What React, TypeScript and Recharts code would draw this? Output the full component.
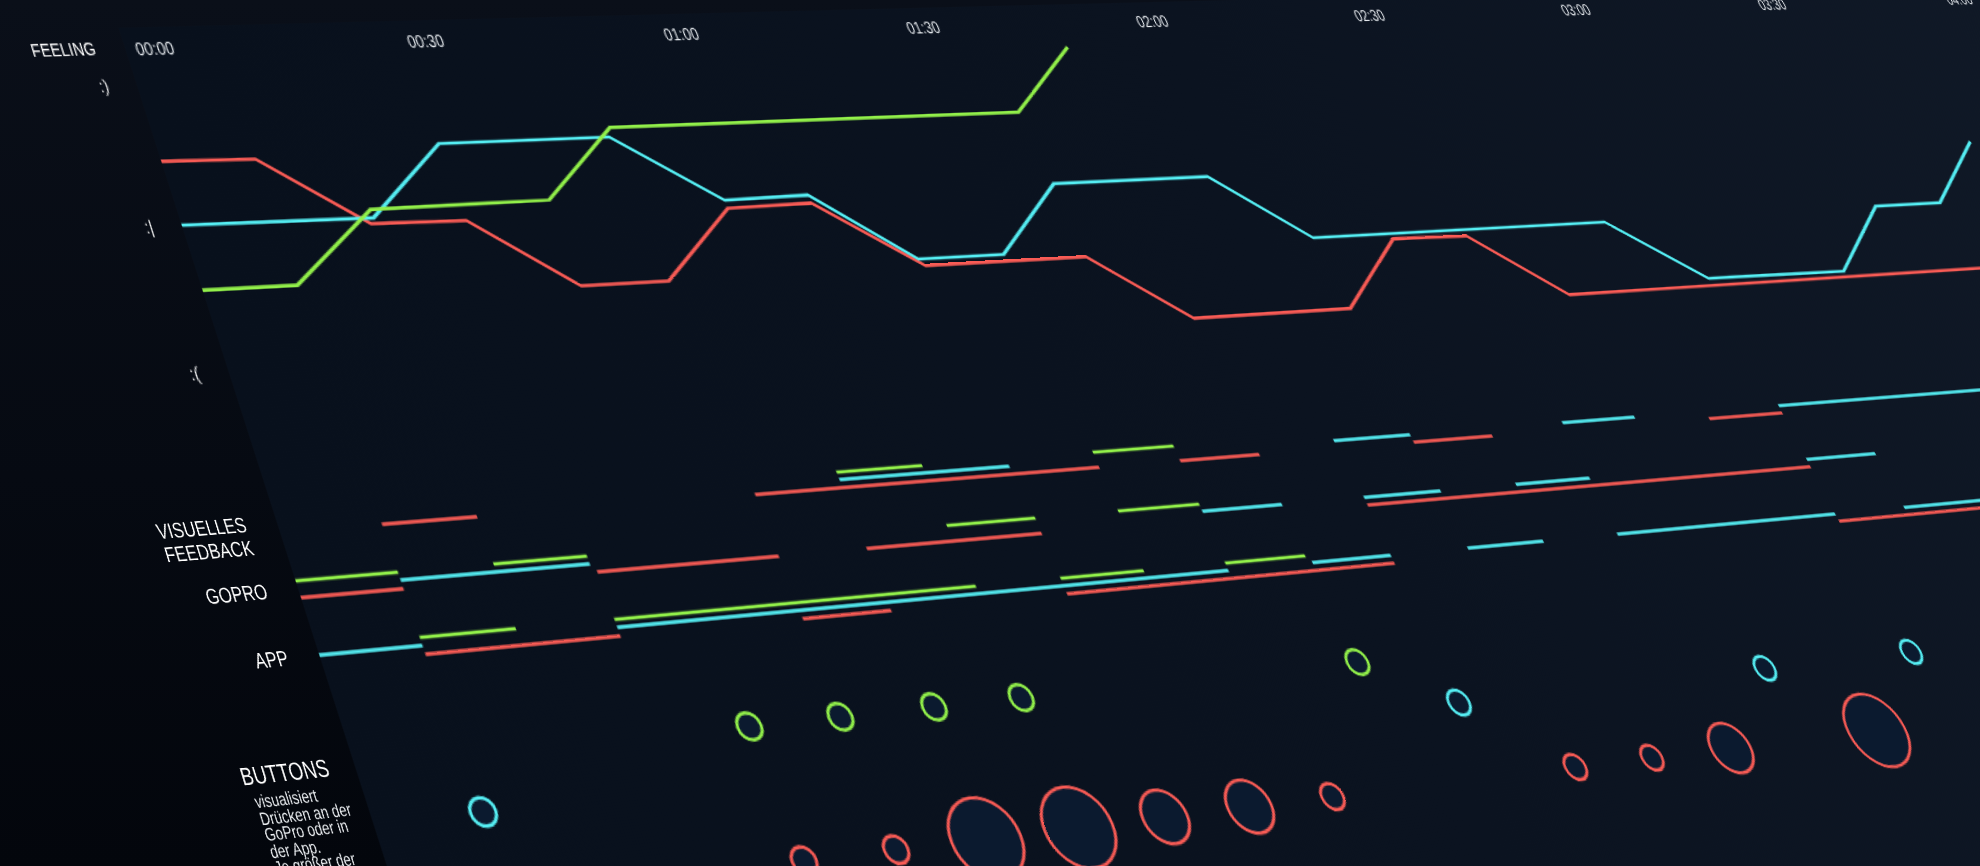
import React from 'react';
import {
  ComposedChart,
  LineChart,
  ScatterChart,
  Line,
  Scatter,
  XAxis,
  YAxis,
  ReferenceLine,
  ReferenceArea,
} from 'recharts';

const RED = '#f85b55';
const CYAN = '#55eef3';
const GREEN = '#92f04a';
const FONT = "'Liberation Sans', Arial, sans-serif";
const NARROW = 0.82; // the labels use a narrow grotesque

// ---- data: minutes since start of the session ----
const timeTicks = [0, 30, 60, 90, 120, 150, 180, 210, 240];
const feelingTicks = [0, 1, 2];
const feelingLabels = [':(', ':|', ':)'];

// feeling: 0 = :(  1 = :|  2 = :)
const redFeeling = [
  { t: 0, v: 1.5 }, { t: 10, v: 1.49 }, { t: 20, v: 1.0 }, { t: 30.5, v: 0.99 },
  { t: 40.5, v: 0.49 }, { t: 50.5, v: 0.49 }, { t: 60.5, v: 0.99 }, { t: 70.5, v: 1.0 },
  { t: 81, v: 0.5 }, { t: 101, v: 0.5 }, { t: 111, v: 0 }, { t: 131.5, v: 0 },
  { t: 141.5, v: 0.51 }, { t: 151.5, v: 0.5 }, { t: 161.5, v: 0 }, { t: 260, v: 0.01 },
];
const cyanFeeling = [
  { t: 0, v: 1.05 }, { t: 20.5, v: 1.04 }, { t: 30.5, v: 1.55 }, { t: 50, v: 1.55 },
  { t: 60.5, v: 1.05 }, { t: 70.5, v: 1.06 }, { t: 80.5, v: 0.55 }, { t: 91, v: 0.55 },
  { t: 101, v: 1.06 }, { t: 121, v: 1.06 }, { t: 131, v: 0.55 }, { t: 171.5, v: 0.55 },
  { t: 182, v: 0.06 }, { t: 202, v: 0.05 }, { t: 212, v: 0.56 }, { t: 222, v: 0.56 },
  { t: 232, v: 1.06 },
];
const greenFeeling = [
  { t: 0, v: 0.6 }, { t: 10, v: 0.6 }, { t: 20.5, v: 1.1 }, { t: 40.5, v: 1.11 },
  { t: 50.5, v: 1.62 }, { t: 100.5, v: 1.62 }, { t: 110.5, v: 2.12 },
];

const rowLabels = [['VISUELLES', 'FEEDBACK'], ['GOPRO'], ['APP']];

const redSegments = [
  { row: 0, from: 10.5, to: 20.5 }, { row: 0, from: 51, to: 91.5 }, { row: 0, from: 101.5, to: 111.5 },
  { row: 0, from: 131.5, to: 142 }, { row: 0, from: 172, to: 182.5 },
  { row: 1, from: 0, to: 10.5 }, { row: 1, from: 31, to: 51 }, { row: 1, from: 61, to: 81.5 },
  { row: 1, from: 122, to: 182.5 },
  { row: 2, from: 10.5, to: 31 }, { row: 2, from: 51, to: 61 }, { row: 2, from: 81.5, to: 122 },
  { row: 2, from: 182.5, to: 270 },
];
const greenSegments = [
  { row: 0, from: 61, to: 71 }, { row: 0, from: 91.5, to: 101.5 },
  { row: 1, from: 0, to: 10.5 }, { row: 1, from: 20.5, to: 30.5 }, { row: 1, from: 71, to: 81.5 },
  { row: 1, from: 91.5, to: 101.5 },
  { row: 2, from: 10.5, to: 20.5 }, { row: 2, from: 31, to: 71.5 }, { row: 2, from: 81.5, to: 91.5 },
  { row: 2, from: 101.5, to: 111.5 },
];
const cyanSegments = [
  { row: 0, from: 61, to: 81 }, { row: 0, from: 121.5, to: 131.5 }, { row: 0, from: 152, to: 162 },
  { row: 0, from: 182.5, to: 270 },
  { row: 1, from: 10.5, to: 30.5 }, { row: 1, from: 101.5, to: 111.5 }, { row: 1, from: 122, to: 132 },
  { row: 1, from: 142, to: 152 }, { row: 1, from: 182.5, to: 192.5 },
  { row: 2, from: 0, to: 10.5 }, { row: 2, from: 31, to: 101.5 }, { row: 2, from: 112, to: 122 },
  { row: 2, from: 132, to: 142 }, { row: 2, from: 152, to: 182.5 }, { row: 2, from: 192.5, to: 270 },
];

// button presses: size = how many presses
const greenPresses = [
  { t: 41, size: 1 }, { t: 51, size: 1 }, { t: 61.5, size: 1 }, { t: 71.5, size: 1 }, { t: 112, size: 1 },
];
const cyanPresses = [
  { t: 11, size: 1 }, { t: 122, size: 1 }, { t: 162.5, size: 1 }, { t: 183, size: 1 },
];
const redPresses = [
  { t: 41.5, size: 1 }, { t: 51.5, size: 1 }, { t: 61.5, size: 3 }, { t: 72, size: 3 },
  { t: 82, size: 2 }, { t: 92, size: 2 }, { t: 102, size: 1 }, { t: 132.5, size: 1 },
  { t: 142.5, size: 1 }, { t: 153, size: 2 }, { t: 173, size: 3 },
];

// ---- flat layout (before the perspective tilt) ----
const T_MAX = 270;
const PX_PER_30 = 218;
const X0 = 140;
const Y0 = 60;
const FLAT_W = X0 + (T_MAX / 30) * PX_PER_30;
const FLAT_H = 800;
const PANEL_TOP = 44;

// perspective of the photographed screen (fitted on a 1568 wide copy)
const K = 1980 / 1568;
const P = { x0: 99, y0: 38, a: 225.1, b: 0.3028, d: -4.89, e: 0.9933, g: 0.02966, h: -0.000175 };
const m11 = (K * P.a) / PX_PER_30;
const m12 = K * P.b;
const m13 = K * (P.x0 - (P.a * X0) / PX_PER_30 - P.b * Y0);
const m21 = (K * P.d) / PX_PER_30;
const m22 = K * P.e;
const m23 = K * (P.y0 - (P.d * X0) / PX_PER_30 - P.e * Y0);
const m31 = P.g / PX_PER_30;
const m32 = P.h;
const m33 = 1 - (P.g * X0) / PX_PER_30 - P.h * Y0;
const TILT = `matrix3d(${m11},${m21},0,${m31},${m12},${m22},0,${m32},0,0,1,0,${m13},${m23},0,${m33})`;

const columns = Array.from({ length: T_MAX / 10 }, (_, i) => ({ t: i * 10 }));
const laneOffset: Record<string, number> = { green: -0.122, cyan: 0, red: 0.133 };
const buttonRow: Record<string, number> = { green: 0, cyan: 1, red: 2.5 };
const R_UNIT = 9.3;
const LINE_W = 2.7;

const fmt = (m: number) =>
  `${String(Math.floor(m / 60)).padStart(2, '0')}:${String(m % 60).padStart(2, '0')}`;

// narrow text drawn at (x, y)
const NText = ({ x, y, anchor = 'start', size = 14, fill = '#ffffff', children }: any) => (
  <g transform={`translate(${x},${y}) scale(${NARROW},1)`}>
    <text x={0} y={0} textAnchor={anchor} dominantBaseline="central" fill={fill} fontSize={size}>
      {children}
    </text>
  </g>
);

const TimeTick = (props: any) => (
  <NText x={props.x + 8} y={PANEL_TOP + 17} size={14.5} fill="#eef2f6">
    {fmt(props.payload.value)}
  </NText>
);

const FeelingTick = (props: any) => (
  <NText x={X0 - 22} y={props.y - 5} anchor="end" size={14}>
    {feelingLabels[props.payload.value]}
  </NText>
);

const LaneTick = (props: any) => {
  const lines = rowLabels[props.payload.value] || [];
  const first = props.y + (lines.length > 1 ? -1 : 0);
  return (
    <g>
      {lines.map((l, i) => (
        <NText key={l} x={X0 - 23} y={first + i * 16} anchor="end" size={14.5}>
          {l}
        </NText>
      ))}
    </g>
  );
};

const Bubble = (color: string) => (props: any) => (
  <circle
    cx={props.cx}
    cy={props.cy}
    r={props.payload.size * R_UNIT}
    fill="#0b1a2f"
    stroke={color}
    strokeWidth={2.4}
  />
);

const xAxis = (
  <XAxis type="number" dataKey="t" domain={[0, T_MAX]} allowDataOverflow hide />
);

const htmlLabel = (origin: string): React.CSSProperties => ({
  position: 'absolute',
  color: '#ffffff',
  whiteSpace: 'nowrap',
  transform: `scaleX(${NARROW})`,
  transformOrigin: origin,
});

const App: React.FC = () => {
  const feelH = 270;
  const feelTop = Y0 + 250 - 108 * 2.3;
  const laneTop = Y0 + 353 - 22.5;
  const btnTop = Y0 + 518 - 36.5;

  return (
    <div
      style={{
        position: 'fixed',
        inset: 0,
        overflow: 'hidden',
        background: 'linear-gradient(180deg, #0a0f19 0%, #060a12 55%, #03060c 100%)',
        fontFamily: FONT,
      }}
    >
      <div
        style={{
          position: 'absolute',
          left: 0,
          top: 0,
          width: FLAT_W,
          height: FLAT_H,
          transformOrigin: '0 0',
          transform: TILT,
        }}
      >
        <div
          style={{
            position: 'absolute',
            left: X0,
            top: PANEL_TOP,
            width: FLAT_W - X0,
            height: FLAT_H - PANEL_TOP,
            background: 'linear-gradient(95deg, #08101c 0%, #0b1320 45%, #111a28 100%)',
          }}
        />

        {/* panel grid + time axis */}
        <div style={{ position: 'absolute', left: 0, top: 0 }}>
          <ComposedChart width={FLAT_W} height={FLAT_H} data={columns} margin={{ top: PANEL_TOP - 30, right: 0, bottom: 0, left: X0 }}>
            <XAxis
              type="number"
              dataKey="t"
              orientation="top"
              height={30}
              domain={[0, T_MAX]}
              allowDataOverflow
              ticks={timeTicks}
              axisLine={false}
              tickLine={false}
              tick={<TimeTick />}
            />
            <YAxis type="number" domain={[0, 1]} hide />
            {columns.map((c, i) =>
              i % 2 === 1 ? (
                <ReferenceArea key={`c${c.t}`} x1={c.t} x2={c.t + 10} y1={0} y2={1} fill="#18253c" fillOpacity={0.3} stroke="none" />
              ) : null
            )}
            {columns.map((c) => (
              <ReferenceLine key={`g${c.t}`} x={c.t} stroke="#1b3956" strokeWidth={1.7} strokeDasharray="12 12" />
            ))}
            <ReferenceLine y={1} stroke="#1c3048" strokeWidth={2} />
          </ComposedChart>
        </div>

        {/* feeling */}
        <div style={{ position: 'absolute', left: 0, top: feelTop }}>
          <LineChart width={FLAT_W} height={feelH} margin={{ top: 0, right: 0, bottom: 0, left: X0 - 40 }}>
            {xAxis}
            <YAxis
              type="number"
              width={40}
              domain={[-0.2, 2.3]}
              allowDataOverflow
              ticks={feelingTicks}
              axisLine={false}
              tickLine={false}
              tick={<FeelingTick />}
            />
            <Line data={redFeeling} dataKey="v" type="linear" stroke={RED} strokeWidth={LINE_W} dot={false} isAnimationActive={false} />
            <Line data={cyanFeeling} dataKey="v" type="linear" stroke={CYAN} strokeWidth={LINE_W} dot={false} isAnimationActive={false} />
            <Line data={greenFeeling} dataKey="v" type="linear" stroke={GREEN} strokeWidth={LINE_W} dot={false} isAnimationActive={false} />
          </LineChart>
        </div>

        {/* visual feedback / gopro / app */}
        <div style={{ position: 'absolute', left: 0, top: laneTop }}>
          <LineChart width={FLAT_W} height={135} margin={{ top: 0, right: 0, bottom: 0, left: X0 - 60 }}>
            {xAxis}
            <YAxis
              type="number"
              width={60}
              domain={[-0.5, 2.5]}
              reversed
              allowDataOverflow
              ticks={[0, 1, 2]}
              axisLine={false}
              tickLine={false}
              tick={<LaneTick />}
            />
            {[
              { name: 'green', color: GREEN, segs: greenSegments },
              { name: 'cyan', color: CYAN, segs: cyanSegments },
              { name: 'red', color: RED, segs: redSegments },
            ].map((s) =>
              s.segs.map((seg, i) => (
                <Line
                  key={`${s.name}${i}`}
                  data={[
                    { t: seg.from, y: seg.row + laneOffset[s.name] },
                    { t: seg.to, y: seg.row + laneOffset[s.name] },
                  ]}
                  dataKey="y"
                  type="linear"
                  stroke={s.color}
                  strokeWidth={LINE_W}
                  dot={false}
                  isAnimationActive={false}
                />
              ))
            )}
          </LineChart>
        </div>

        {/* buttons */}
        <div style={{ position: 'absolute', left: 0, top: btnTop }}>
          <ScatterChart width={FLAT_W} height={182.5} margin={{ top: 0, right: 0, bottom: 0, left: X0 }}>
            {xAxis}
            <YAxis type="number" dataKey="row" domain={[-1, 4]} reversed allowDataOverflow hide />
            <Scatter data={greenPresses.map((p) => ({ ...p, row: buttonRow.green }))} shape={Bubble(GREEN)} isAnimationActive={false} />
            <Scatter data={cyanPresses.map((p) => ({ ...p, row: buttonRow.cyan }))} shape={Bubble(CYAN)} isAnimationActive={false} />
            <Scatter data={redPresses.map((p) => ({ ...p, row: buttonRow.red }))} shape={Bubble(RED)} isAnimationActive={false} />
          </ScatterChart>
        </div>

        {/* row titles */}
        <div style={{ ...htmlLabel('right center'), left: 0, width: X0 - 23, top: Y0 - 8, textAlign: 'right', fontSize: 14, lineHeight: '16px' }}>
          FEELING
        </div>
        <div style={{ ...htmlLabel('right center'), left: 0, width: X0 - 19, top: Y0 + 517 - 9, textAlign: 'right', fontSize: 16, lineHeight: '18px' }}>
          BUTTONS
        </div>
        <div
          style={{
            ...htmlLabel('left top'),
            left: X0 - 77,
            top: Y0 + 534 - 6,
            color: '#eef1f4',
            fontSize: 11.5,
            lineHeight: '10.5px',
          }}
        >
          visualisiert
          <br />
          Drücken an der
          <br />
          GoPro oder in
          <br />
          der App.
          <br />
          Je größer der
        </div>
      </div>
    </div>
  );
};

export default App;
